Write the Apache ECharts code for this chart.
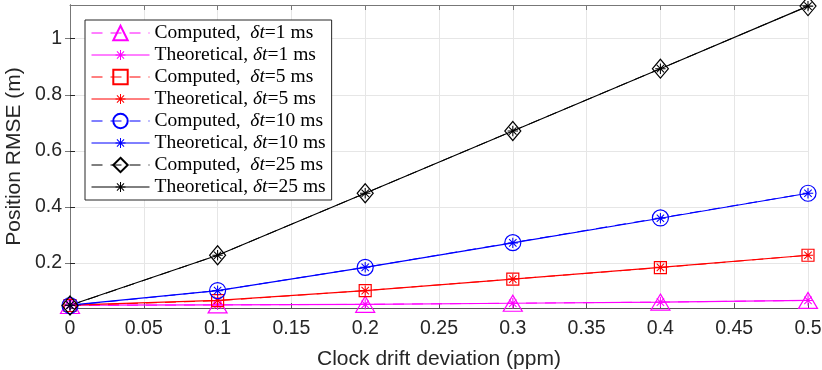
<!DOCTYPE html>
<html>
<head>
<meta charset="utf-8">
<script src="https://cdn.jsdelivr.net/npm/echarts@6/dist/echarts.min.js"></script>
<style>
  html, body { margin: 0; padding: 0; background: #fff; }
  #chart { width: 822px; height: 370px; }
</style>
</head>
<body>
<div id="chart"></div>
<script>
// clock drift deviation (ppm)
var drift = [0, 0.1, 0.2, 0.3, 0.4, 0.5];
// position RMSE (m)
var comp1 = [0.049, 0.051, 0.053, 0.057, 0.061, 0.067];
var theo1 = [0.050, 0.051, 0.053, 0.057, 0.061, 0.067];
var comp5 = [0.049, 0.066, 0.102, 0.143, 0.184, 0.228];
var theo5 = [0.050, 0.067, 0.102, 0.143, 0.185, 0.228];
var comp10 = [0.049, 0.102, 0.185, 0.273, 0.361, 0.449];
var theo10 = [0.050, 0.102, 0.185, 0.272, 0.360, 0.449];
var comp25 = [0.049, 0.228, 0.449, 0.671, 0.893, 1.116];
var theo25 = [0.050, 0.228, 0.449, 0.671, 0.893, 1.116];
var yTicks = [0.2, 0.4, 0.6, 0.8, 1];

var names = [
  'Computed,  δt=1 ms', 'Theoretical, δt=1 ms',
  'Computed,  δt=5 ms', 'Theoretical, δt=5 ms',
  'Computed,  δt=10 ms', 'Theoretical, δt=10 ms',
  'Computed,  δt=25 ms', 'Theoretical, δt=25 ms'
];

// asterisk marker built from thin bars (+ and x), with an empty margin box
// so that it stays small in the legend icon
var star = 'path://M-14.4,-14.4L-14.39,-14.4L-14.4,-14.39Z M14.4,14.4L14.39,14.4L14.4,14.39Z' +
  'M-1,-10L1,-10L1,10L-1,10Z' +
  'M-10,-1L10,-1L10,1L-10,1Z' +
  'M-7.8,-6.4L-6.4,-7.8L7.8,6.4L6.4,7.8Z' +
  'M6.4,-7.8L7.8,-6.4L-6.4,7.8L-7.8,6.4Z';

function pts(arr) {
  return drift.map(function (x, i) { return [x, arr[i]]; });
}

function computed(name, arr, color, symbol, size) {
  return {
    name: name, type: 'line', data: pts(arr),
    symbol: symbol, symbolSize: size,
    color: color,
    lineStyle: { color: color, width: 1, type: [11, 8] },
    itemStyle: { color: 'rgba(0,0,0,0)', borderColor: color, borderWidth: 1.2 },
    emphasis: { disabled: true }
  };
}
function theoretical(name, arr, color) {
  return {
    name: name, type: 'line', data: pts(arr),
    symbol: star, symbolSize: 15,
    color: color,
    lineStyle: { color: color, width: 1.2 },
    itemStyle: { color: color },
    emphasis: { disabled: true }
  };
}

var chart = echarts.init(document.getElementById('chart'));
var axisCol = '#262626';
var font = 'Liberation Sans, Arial, sans-serif';
var serif = 'Liberation Serif, Times New Roman, serif';

chart.setOption({
  animation: false,
  grid: { left: 70, right: 14, top: 5, bottom: 62, containLabel: false, outerBoundsMode: 'none' },
  legend: {
    left: 85, top: 20,
    orient: 'vertical',
    itemWidth: 58, itemHeight: 18, itemGap: 2, itemTextGap: 6,
    padding: [3, 6, 3, 6],
    backgroundColor: '#fff',
    borderColor: axisCol, borderWidth: 1,
    selectedMode: false,
    lineStyle: { width: 1 },
    data: names,
    formatter: function (n) {
      var k = n.indexOf('δt');
      return '{n|' + n.slice(0, k) + '}{i|δt}{n|' + n.slice(k + 2) + '}';
    },
    textStyle: {
      rich: {
        n: { fontFamily: serif, fontSize: 19.5, lineHeight: 18, color: '#000' },
        i: { fontFamily: serif, fontStyle: 'italic', fontSize: 19.5, lineHeight: 18, color: '#000' }
      }
    }
  },
  xAxis: [{
    type: 'value', min: 0, max: 0.5, interval: 0.05,
    name: 'Clock drift deviation (ppm)', nameLocation: 'middle', nameGap: 41,
    nameTextStyle: { fontFamily: font, fontSize: 21, color: axisCol },
    axisLine: { lineStyle: { color: '#555', width: 1 } },
    axisTick: { inside: true, length: 5, lineStyle: { color: '#555' } },
    axisLabel: {
      fontFamily: font, fontSize: 19.5, color: axisCol, margin: 11,
      formatter: function (v) { return String(parseFloat(v.toFixed(2))); }
    },
    splitLine: { show: true, lineStyle: { color: '#e6e6e6', width: 1 } }
  }, {
    type: 'value', min: 0, max: 0.5, interval: 0.05, position: 'top',
    axisLine: { show: true, lineStyle: { color: '#777', width: 1 } },
    axisTick: { show: true, inside: true, length: 5, lineStyle: { color: '#777' } },
    axisLabel: { show: false },
    splitLine: { show: false }
  }],
  yAxis: [{
    type: 'value', min: 0.04, max: 1.12,
    name: 'Position RMSE (m)', nameLocation: 'middle', nameGap: 45, nameMoveOverlap: false,
    nameTextStyle: { fontFamily: font, fontSize: 21, color: axisCol },
    axisLine: { show: true, lineStyle: { color: axisCol, width: 1 } },
    axisTick: { show: true, inside: true, length: 5, customValues: yTicks, lineStyle: { color: axisCol } },
    axisLabel: {
      fontFamily: font, fontSize: 19.5, color: axisCol, margin: 8, customValues: yTicks,
      formatter: function (v) { return String(parseFloat(v.toFixed(2))); }
    },
    splitLine: { show: true, lineStyle: { color: '#e6e6e6', width: 1 } }
  }, {
    type: 'value', min: 0.04, max: 1.12, position: 'right',
    axisLine: { show: true, lineStyle: { color: '#777', width: 1 } },
    axisTick: { show: true, inside: true, length: 5, customValues: yTicks, lineStyle: { color: '#777' } },
    axisLabel: { show: false },
    splitLine: { show: false }
  }],
  series: [
    computed(names[0], comp1, '#ff00ff', 'triangle', [19, 16]),
    theoretical(names[1], theo1, '#ff00ff'),
    computed(names[2], comp5, '#ff0000', 'rect', 12),
    theoretical(names[3], theo5, '#ff0000'),
    computed(names[4], comp10, '#0000ff', 'circle', 16),
    theoretical(names[5], theo10, '#0000ff'),
    computed(names[6], comp25, '#000000', 'diamond', [16, 19]),
    theoretical(names[7], theo25, '#000000')
  ]
});
</script>
</body>
</html>
